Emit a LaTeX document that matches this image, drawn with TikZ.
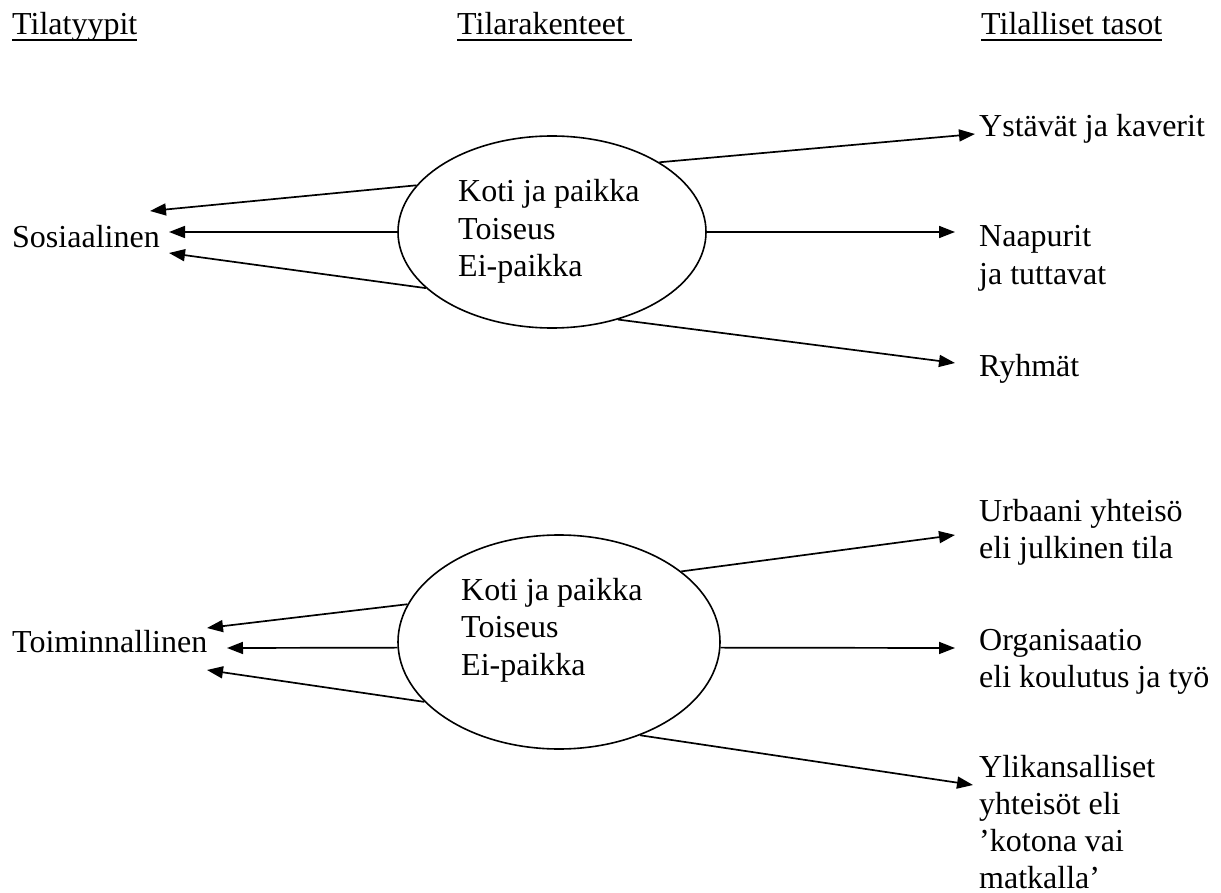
\documentclass[tikz,border=0pt]{standalone}
\usepackage{fontspec}
\setmainfont{Liberation Serif}
\usetikzlibrary{shapes.geometric,arrows.meta}
\begin{document}
\begin{tikzpicture}[x=1pt,y=-1pt,
  txt/.style={inner sep=0pt,anchor=base west,align=left,font=\fontsize{32}{37.5}\selectfont},
  oval/.style={draw,ellipse,line width=1.6pt,inner sep=0pt},
  arr/.style={line width=1.7pt,-{Triangle[length=16pt,width=12pt]}},
  uline/.style={line width=2.4pt}]
\useasboundingbox (0,0) rectangle (1221,893);

% titles
\node[txt] (t1) at (12,35) {Tilatyypit};
\node[txt] (t2) at (457,35) {Tilarakenteet};
\node[txt] (t3) at (981,35) {Tilalliset tasot};
\draw[uline] ([yshift=-5pt]t1.base west) -- ([yshift=-5pt]t1.base east);
\draw[uline] ([yshift=-5pt]t2.base west) -- ([yshift=-5pt,xshift=7pt]t2.base east);
\draw[uline] ([yshift=-5pt]t3.base west) -- ([yshift=-5pt]t3.base east);

% upper group (multi-line nodes: base = baseline of last line)
\node[txt] (s) at (12,248) {Sosiaalinen};
\node[oval,minimum width=308pt,minimum height=192pt] (e1) at (552,232) {};
\node[txt] (k1) at (458,277) {Koti ja paikka\\Toiseus\\Ei-paikka};
\node[txt] (y1) at (979,137) {Ystävät ja kaverit};
\node[txt] (n1) at (979,284.5) {Naapurit\\ja tuttavat};
\node[txt] (r1) at (979,376) {Ryhmät};

\coordinate (a1) at (150,211);
\coordinate (a2) at (169,232);
\coordinate (a3) at (169,253);
\coordinate (b1) at (975,134);
\coordinate (b2) at (955,232);
\coordinate (b3) at (955,363);

\draw[arr] (e1.161) -- (a1);
\draw[arr] (e1.180) -- (a2);
\draw[arr] (e1.204) -- (a3);
\draw[arr] (e1.33) -- (b1);
\draw[arr] (e1.0) -- (b2);
\draw[arr] (e1.307) -- (b3);

% lower group
\node[txt] (f) at (12,652) {Toiminnallinen};
\node[oval,minimum width=322pt,minimum height=214pt] (e2) at (559,642) {};
\node[txt] (k2) at (461,675) {Koti ja paikka\\Toiseus\\Ei-paikka};
\node[txt] (u2) at (979,558.5) {Urbaani yhteisö\\eli julkinen tila};
\node[txt] (o2) at (979,687.5) {Organisaatio\\eli koulutus ja työ};
\node[txt,font=\fontsize{32}{37}\selectfont] (l2) at (979,888) {Ylikansalliset\\yhteisöt eli\\’kotona vai\\matkalla’};

\coordinate (c1) at (207,628);
\coordinate (c2) at (227,648);
\coordinate (c3) at (207,670);
\coordinate (d1) at (955,535);
\coordinate (d2) at (955,648);
\coordinate (d3) at (973,785);

\draw[arr] (e2.166) -- (c1);
\draw[arr] (e2.182) -- (c2);
\draw[arr] (e2.204) -- (c3);
\draw[arr] (e2.30) -- (d1);
\draw[arr] (e2.358) -- (d2);
\draw[arr] (e2.311) -- (d3);
\end{tikzpicture}
\end{document}
